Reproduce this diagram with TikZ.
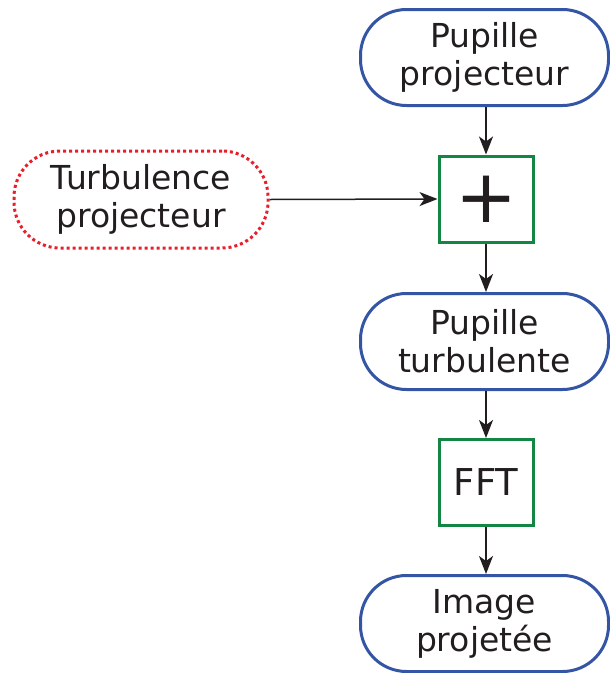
\documentclass[tikz,border=0pt]{standalone}
\usepackage{fontspec}
\setmainfont{DejaVu Sans}
\usetikzlibrary{arrows.meta}
\definecolor{bblue}{RGB}{52,84,164}
\definecolor{ggreen}{RGB}{18,134,66}
\definecolor{rred}{RGB}{232,30,40}
\definecolor{dgray}{RGB}{34,30,32}
\begin{document}
\begin{tikzpicture}[x=1pt,y=-1pt,
  term/.style={draw=bblue,line width=3pt,rounded corners=46pt,minimum width=248pt,minimum height=96pt,inner sep=0pt,align=center,font=\fontsize{33}{38}\selectfont,text=dgray},
  ext/.style={draw=rred,line width=3pt,dash pattern=on 3pt off 3pt,rounded corners=46pt,minimum width=254pt,minimum height=97pt,inner sep=0pt,align=center,font=\fontsize{33}{38}\selectfont,text=dgray},
  proc/.style={draw=ggreen,line width=3pt,minimum width=94pt,minimum height=86pt,inner sep=0pt,align=center,text=dgray},
  conn/.style={draw=dgray,line width=1.5pt,-{Stealth[length=18pt,width=14pt,inset=5pt]}}]
\useasboundingbox (0,0) rectangle (610,673);
\node[term] (pp) at (484.5,57.5) {Pupille\\projecteur};
\node[proc,font=\fontsize{74}{74}\selectfont] (plus) at (486,199) {+};
\node[ext] (tp) at (141,199.5) {Turbulence\\projecteur};
\node[term] (pt) at (484.5,341.5) {Pupille\\turbulente};
\node[proc,font=\fontsize{37}{40}\selectfont] (fft) at (486,482.5) {FFT};
\node[term] (ip) at (484.5,623.5) {Image\\projetée};
\draw[conn] (pp.south -| plus) -- (plus.north);
\draw[conn] (tp.east) -- (plus.west);
\draw[conn] (plus.south) -- (pt.north -| plus);
\draw[conn] (pt.south -| fft) -- (fft.north);
\draw[conn] (fft.south) -- (ip.north -| fft);
\end{tikzpicture}
\end{document}
